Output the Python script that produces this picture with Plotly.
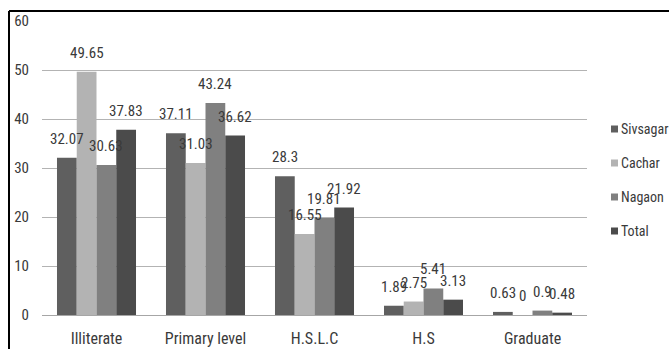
import plotly.graph_objects as go

# Education level shares (%) by district
categories = ["Illiterate", "Primary level", "H.S.L.C", "H.S", "Graduate"]
series_names = ["Sivsagar", "Cachar", "Nagaon", "Total"]
sivsagar = [32.07, 37.11, 28.3, 1.89, 0.63]
cachar = [49.65, 31.03, 16.55, 2.75, 0]
nagaon = [30.63, 43.24, 19.81, 5.41, 0.9]
total = [37.83, 36.62, 21.92, 3.13, 0.48]
y_ticks = [0, 10, 20, 30, 40, 50, 60]

values = [sivsagar, cachar, nagaon, total]
colors = ["#5f5f5f", "#b3b3b3", "#808080", "#4b4b4b"]

FONT = "Roboto Condensed, DejaVu Sans Condensed, sans-serif"
TEXT = "#3a3a3a"
BARGAP = 0.275

# plot-area geometry in pixels
W, H = 669, 349
L, R, T, B = 42, 82, 21, 34
pw, ph = W - L - R, H - T - B

fig = go.Figure()
for name, vals, col in zip(series_names, values, colors):
    fig.add_trace(go.Bar(x=categories, y=vals, name=name, marker_color=col,
                         marker_line_width=0, showlegend=False))

# value labels above each bar
n = len(series_names)
gw = 1 - BARGAP
annotations = []
for j, vals in enumerate(values):
    off = -gw / 2 + (j + 0.5) * gw / n
    for i, v in enumerate(vals):
        annotations.append(dict(x=i + off, y=v, xref="x", yref="y", text=f"{v:g}",
                                showarrow=False, yshift=19, yanchor="middle",
                                font=dict(family=FONT, size=15, color=TEXT)))

# legend drawn as swatches + labels at the right
shapes = []
for k, (name, col) in enumerate(zip(series_names, colors)):
    yc = 129 + 34 * k
    ypap = (H - B - yc) / ph
    x0 = (611 - L) / pw
    x1 = (618 - L) / pw
    shapes.append(dict(type="rect", xref="paper", yref="paper",
                       x0=x0, x1=x1, y0=ypap - 3.5 / ph, y1=ypap + 3.5 / ph,
                       fillcolor=col, line_width=0))
    annotations.append(dict(x=(619 - L) / pw, y=ypap, xref="paper", yref="paper",
                            text=name, showarrow=False, xanchor="left", yanchor="middle",
                            font=dict(family=FONT, size=14, color=TEXT)))

# outer frame (top and left edges)
fx = (9 - L) / pw
fy = (H - B - 11) / ph
shapes.append(dict(type="line", xref="paper", yref="paper", x0=fx, x1=1.3, y0=fy, y1=fy,
                   line=dict(color="black", width=2)))
shapes.append(dict(type="line", xref="paper", yref="paper", x0=fx, x1=fx, y0=fy, y1=-0.3,
                   line=dict(color="black", width=2)))

fig.update_layout(
    width=W, height=H,
    margin=dict(l=L, r=R, t=T, b=B, autoexpand=False),
    paper_bgcolor="white", plot_bgcolor="white",
    barmode="group", bargap=BARGAP, bargroupgap=0,
    showlegend=False,
    annotations=annotations, shapes=shapes,
    font=dict(family=FONT, size=15, color=TEXT),
)
fig.update_xaxes(showgrid=False, showline=True, linecolor="#a6a6a6", linewidth=1,
                 ticks="", tickfont=dict(family=FONT, size=16, color=TEXT),
                 ticklabelstandoff=9, automargin=False)
fig.update_yaxes(range=[0, 60], tickvals=y_ticks, showgrid=True, gridcolor="#b3b3b3",
                 gridwidth=1, zeroline=False, showline=False, ticks="",
                 tickfont=dict(family=FONT, size=15, color=TEXT), ticklabelstandoff=12,
                 automargin=False)

fig.write_html("out.html")
